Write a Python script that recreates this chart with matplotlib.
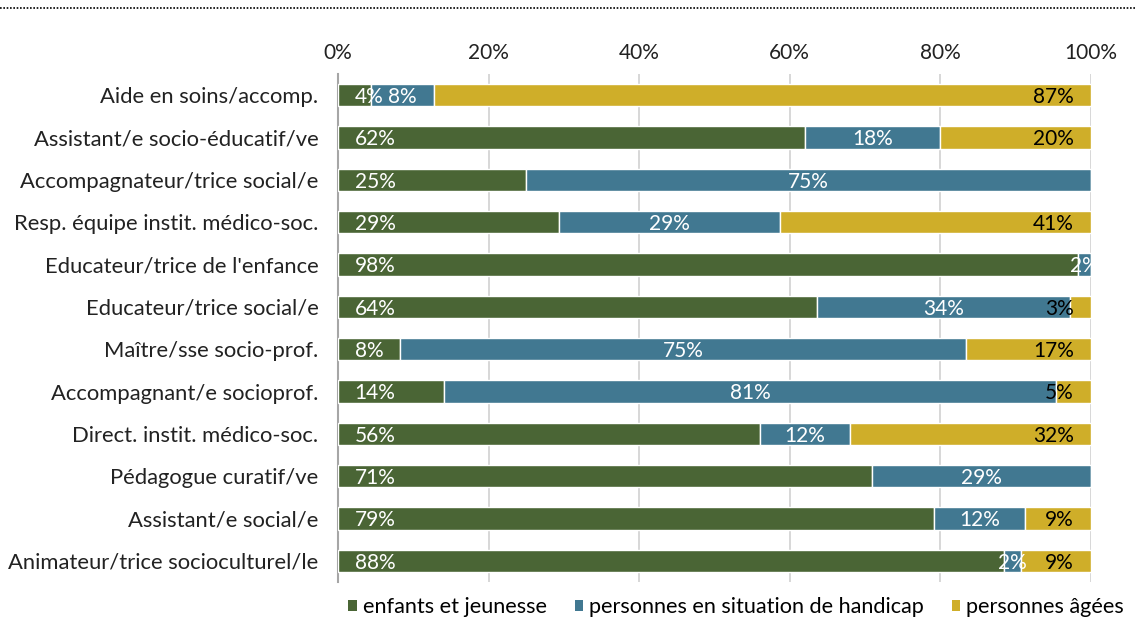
import numpy as np
import matplotlib
matplotlib.use("Agg")
import matplotlib.pyplot as plt
from matplotlib.lines import Line2D
from matplotlib.patches import Patch

plt.rcParams['font.family'] = ['Lato', 'DejaVu Sans']

# Données (parts en %)
professions = [
    "Aide en soins/accomp.",
    "Assistant/e socio-éducatif/ve",
    "Accompagnateur/trice social/e",
    "Resp. équipe instit. médico-soc.",
    "Educateur/trice de l'enfance",
    "Educateur/trice social/e",
    "Maître/sse socio-prof.",
    "Accompagnant/e socioprof.",
    "Direct. instit. médico-soc.",
    "Pédagogue curatif/ve",
    "Assistant/e social/e",
    "Animateur/trice socioculturel/le",
]
enfants = [4.4, 62.0, 25.0, 29.3, 98.3, 63.6, 8.2, 14.1, 56.0, 70.9, 79.2, 88.4]
handicap = [8.4, 18.0, 75.0, 29.4, 1.7, 33.6, 75.2, 81.3, 12.0, 29.1, 12.0, 2.3]
ages = [87.2, 20.0, 0.0, 41.3, 0.0, 2.8, 16.6, 4.6, 32.0, 0.0, 8.8, 9.3]

series_names = ["enfants et jeunesse", "personnes en situation de handicap", "personnes âgées"]
couleurs = ["#4a6535", "#417891", "#cfae29"]

fig = plt.figure(figsize=(11.36, 6.21), dpi=100)
ax = fig.add_axes([338 / 1136, 1 - 582 / 621, 753 / 1136, (582 - 74) / 621])

y = np.arange(len(professions))
e = np.array(enfants)
h = np.array(handicap)
a = np.array(ages)

ax.barh(y, e, height=0.52, color=couleurs[0], edgecolor="white", linewidth=1, zorder=3)
ax.barh(y, h, left=e, height=0.52, color=couleurs[1], edgecolor="white", linewidth=1, zorder=3)
ax.barh(y, a, left=e + h, height=0.52, color=couleurs[2], edgecolor="white", linewidth=1, zorder=3)

fs = 15
for i in range(len(y)):
    # vert : à la base
    ax.text(2.2, y[i] + 0.04, f"{round(e[i])}%", color="white", fontsize=fs,
            va="center", ha="left", zorder=4)
    # bleu : au centre
    if h[i] > 0:
        ax.text(e[i] + h[i] / 2, y[i] + 0.04, f"{round(h[i])}%", color="white",
                fontsize=fs, va="center", ha="center", zorder=4)
    # jaune : à l'extrémité
    if a[i] > 0:
        ax.text(97.7, y[i] + 0.04, f"{round(a[i])}%", color="black",
                fontsize=fs, va="center", ha="right", zorder=4)

ax.set_xlim(0, 100)
ax.set_ylim(len(professions) - 0.5, -0.5)
ax.set_yticks(y)
ax.set_yticklabels(professions, fontsize=15.8, color="#222222")
ax.set_xticks([0, 20, 40, 60, 80, 100])
ax.set_xticklabels(["0%", "20%", "40%", "60%", "80%", "100%"], fontsize=15, color="#222222")
ax.xaxis.tick_top()
ax.tick_params(axis="x", length=0, pad=8)
ax.tick_params(axis="y", length=0, pad=14)

for s in ["top", "right", "bottom"]:
    ax.spines[s].set_visible(False)
ax.spines["left"].set_color("#a6a6a6")
ax.spines["left"].set_linewidth(1.5)

ax.grid(axis="x", color="#d4d4d4", linewidth=1.3, zorder=0)
ax.set_axisbelow(True)

handles = [Patch(facecolor=c, edgecolor="none") for c in couleurs]
leg = fig.legend(handles, series_names, loc="center", bbox_to_anchor=(736 / 1136, 1 - 607 / 621),
                 ncol=3, frameon=False, fontsize=15.6, handlelength=0.4, handleheight=0.4,
                 handletextpad=0.25, columnspacing=1.3)

# ligne pointillée en haut
fig.add_artist(Line2D([0, 1], [1 - 8 / 621, 1 - 8 / 621], transform=fig.transFigure,
                      color="black", linestyle=(0, (1, 1)), linewidth=1.2))

fig.savefig("out.png", dpi=100)
